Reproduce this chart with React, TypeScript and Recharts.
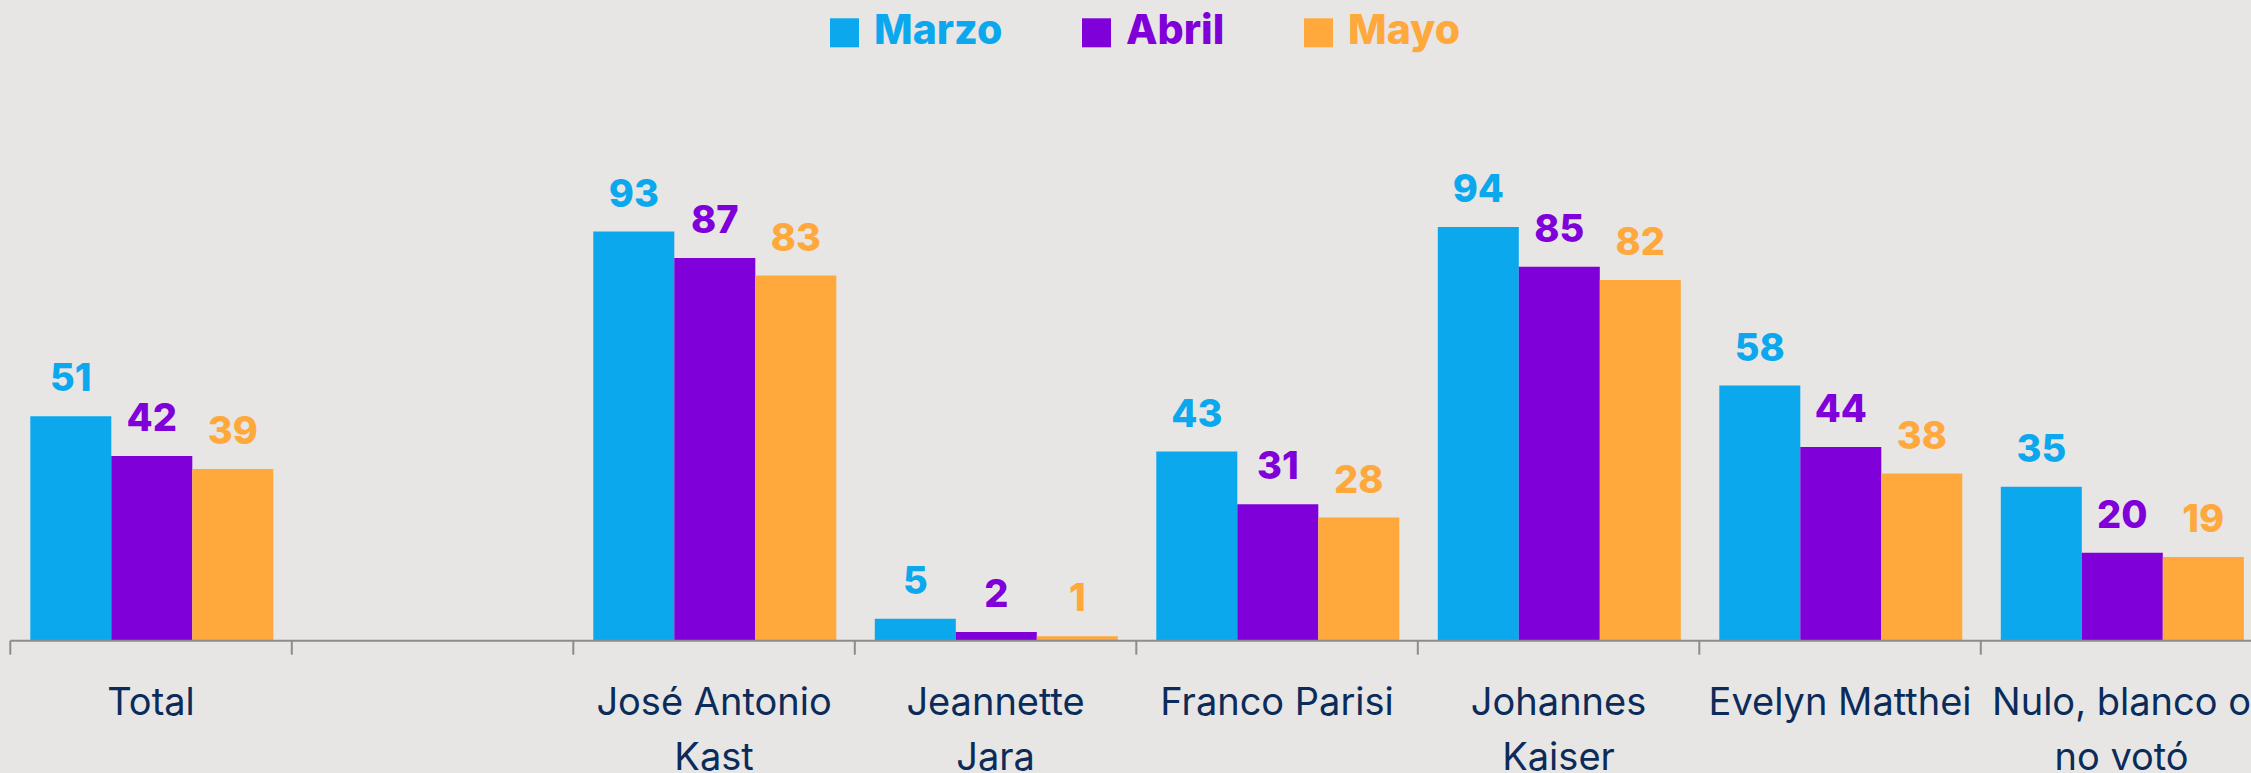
import React from 'react';
import { BarChart, Bar, XAxis, YAxis, LabelList } from 'recharts';

const categories = [
  'Total',
  '',
  'José Antonio\nKast',
  'Jeannette\nJara',
  'Franco Parisi',
  'Johannes\nKaiser',
  'Evelyn Matthei',
  'Nulo, blanco o\nno votó',
];
const marzo = [51, null, 93, 5, 43, 94, 58, 35];
const abril = [42, null, 87, 2, 31, 85, 44, 20];
const mayo = [39, null, 83, 1, 28, 82, 38, 19];
const seriesNames = ['Marzo', 'Abril', 'Mayo'];
const seriesKeys = ['marzo', 'abril', 'mayo'];

const COLORS = ['#0BA8EE', '#7F00D9', '#FFA83B'];
const BG = '#E8E6E4';
const AXIS = '#8C8C8C';
const LABEL = '#0B2C5A';

const data = categories.map((name, i) => ({
  name,
  marzo: marzo[i],
  abril: abril[i],
  mayo: mayo[i],
}));

const W = 2263;
const H = 773;
const M = { top: 200.7, right: 0.7, left: 10.3, bottom: 0 };
const BAND = (W - M.left - M.right) / categories.length;

const FONT = 'Inter, "Open Sans", sans-serif';

const Tick = (props: any) => {
  const { x, y, payload } = props;
  const lines = String(payload.value).split('\n');
  const bx = x - BAND / 2;
  return (
    <g>
      <line x1={bx} y1={y} x2={bx} y2={y + 14} stroke={AXIS} strokeWidth={2} />
      <text
        x={x}
        y={y + 74}
        textAnchor="middle"
        fill={LABEL}
        fontFamily={FONT}
        fontSize={38}
        fontWeight={400}
      >
        {lines.map((l, i) => (
          <tspan key={i} x={x} dy={i === 0 ? 0 : 55}>
            {l}
          </tspan>
        ))}
      </text>
    </g>
  );
};

const makeLabel = (color: string) => (props: any) => {
  const { x, y, width, value } = props;
  if (value === null || value === undefined) return null;
  return (
    <text
      x={x + width / 2}
      y={y - 25}
      textAnchor="middle"
      fill={color}
      fontFamily={FONT}
      fontSize={38}
      fontWeight={800}
    >
      {value}
    </text>
  );
};

const legendSquares = [830, 1082, 1304];
const legendTexts = [874, 1126, 1348];

export default function App() {
  return (
    <div
      style={{
        position: 'fixed',
        left: 0,
        top: 0,
        width: 2251,
        height: H,
        overflow: 'hidden',
        background: BG,
      }}
    >
      <BarChart
        width={W}
        height={H}
        data={data}
        margin={M}
        barCategoryGap={20}
        barGap={0}
      >
        <YAxis hide domain={[0, 100]} />
        <XAxis
          dataKey="name"
          interval={0}
          height={H - 640.7}
          tickSize={0}
          tickMargin={0}
          tickLine={false}
          axisLine={{ stroke: AXIS, strokeWidth: 2 }}
          tick={<Tick />}
        />
        {seriesKeys.map((k, i) => (
          <Bar key={k} dataKey={k} name={seriesNames[i]} fill={COLORS[i]} isAnimationActive={false}>
            <LabelList dataKey={k} content={makeLabel(COLORS[i])} />
          </Bar>
        ))}
      </BarChart>
      <svg
        width={2251}
        height={70}
        style={{ position: 'absolute', left: 0, top: 0 }}
      >
        {seriesNames.map((n, i) => (
          <g key={n}>
            <rect x={legendSquares[i]} y={18.3} width={29} height={29} fill={COLORS[i]} />
            <text
              x={legendTexts[i]}
              y={44}
              fill={COLORS[i]}
              fontFamily={FONT}
              fontSize={41}
              fontWeight={800}
            >
              {n}
            </text>
          </g>
        ))}
      </svg>
    </div>
  );
}
